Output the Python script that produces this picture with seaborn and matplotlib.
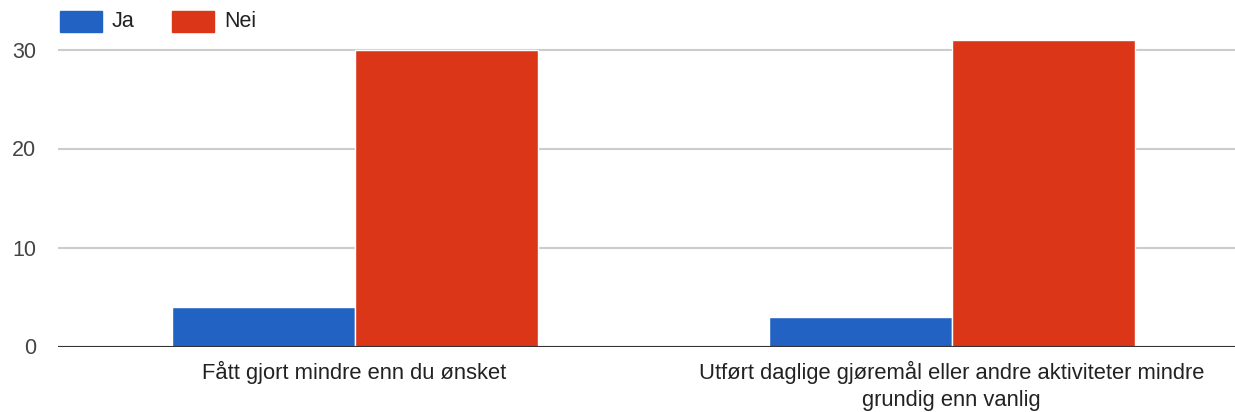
import matplotlib
matplotlib.use("Agg")
import matplotlib.pyplot as plt
import seaborn as sns
import pandas as pd

# data
kategorier = ["Fått gjort mindre enn du ønsket",
              "Utført daglige gjøremål eller andre aktiviteter mindre\ngrundig enn vanlig"]
ja = [4, 3]
nei = [30, 31]
serier = ["Ja", "Nei"]
farger = ["#2262c3", "#dc3618"]

df = pd.DataFrame({
    "kategori": kategorier * 2,
    "svar": ["Ja"] * len(ja) + ["Nei"] * len(nei),
    "antall": ja + nei,
})

sns.set_style("white")
plt.rcParams['font.family'] = ['Liberation Sans', 'DejaVu Sans']

fig = plt.figure(figsize=(12.35, 4.12), dpi=100)
ax = fig.add_axes([58 / 1235, 1 - 346.5 / 412, 1 - 58 / 1235, 346.5 / 412])

sns.barplot(data=df, x="kategori", y="antall", hue="svar", hue_order=serier,
            palette=farger, width=0.613, gap=0, saturation=1,
            edgecolor="white", linewidth=1, ax=ax, legend=False)

ax.set_xlim(-0.4966, 1.4744)
ax.set_ylim(0, 35)
ax.set_yticks([0, 10, 20, 30])
ax.yaxis.grid(True, color="#cccccc", linewidth=1.5)
ax.set_axisbelow(True)
ax.axhline(0, color="#333333", linewidth=1.5, zorder=5)
for s in ax.spines.values():
    s.set_visible(False)
ax.set_xlabel("")
ax.set_ylabel("")
ax.tick_params(axis="y", length=0, pad=15.8, labelsize=15.5, labelcolor="#444444")
ax.tick_params(axis="x", length=0, pad=10, labelsize=15.8, labelcolor="#222222")
for lbl in ax.get_xticklabels():
    lbl.set_linespacing(1.4)
    lbl.set_verticalalignment("top")

# legend
for i, (navn, f) in enumerate(zip(serier, farger)):
    x0 = 60 + i * 112
    fig.patches.append(plt.Rectangle((x0 / 1235, 1 - 32 / 412), 42 / 1235, 21 / 412,
                                     transform=fig.transFigure, color=f))
    fig.text((x0 + 52) / 1235, 1 - 21.5 / 412, navn, fontsize=15.5, color="#222222",
             va="center", ha="left")

fig.savefig("out.png", dpi=100)
